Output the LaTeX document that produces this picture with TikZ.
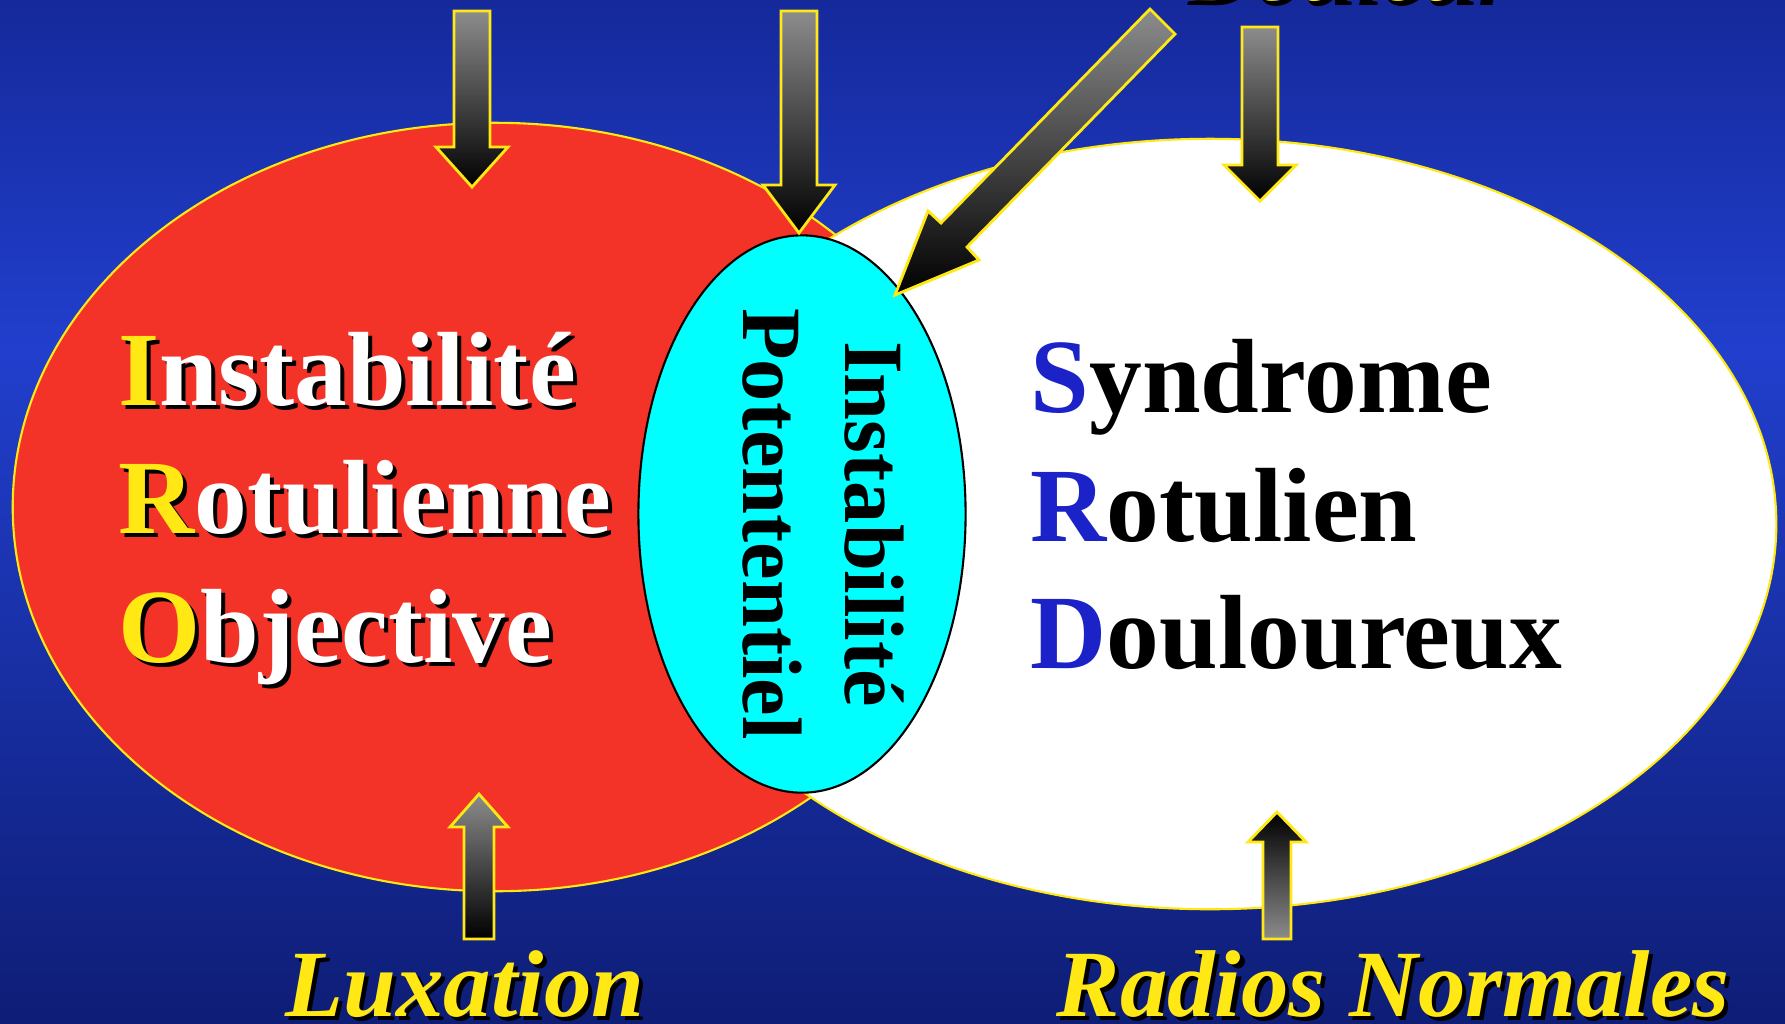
\documentclass[tikz,border=0pt]{standalone}
\usepackage{fontspec}
\setmainfont{Liberation Serif}
\usetikzlibrary{shapes.geometric}

\definecolor{bgtop}{RGB}{21,41,155}
\definecolor{bgmid}{RGB}{33,63,205}
\definecolor{bgbot}{RGB}{14,29,118}
\definecolor{iroRed}{RGB}{243,50,40}
\definecolor{hiYellow}{RGB}{255,232,20}
\definecolor{srdBlue}{RGB}{26,34,200}
\definecolor{ipCyan}{RGB}{0,255,255}
\definecolor{arrowGray}{RGB}{140,140,140}

\pgfdeclareverticalshading{slidebg}{100bp}{color(0bp)=(bgbot); color(25bp)=(bgbot);
    color(58bp)=(bgmid); color(75bp)=(bgtop); color(100bp)=(bgtop)}

\begin{document}
\begin{tikzpicture}[
    x=0.01cm, y=-0.01cm,
    blob/.style={ellipse, inner sep=0pt, line width=0.6pt},
    blockarrow/.style={draw=hiYellow, line width=0.8pt, line join=miter},
    bigword/.style={anchor=base west, inner sep=0pt,
        font=\fontsize{30}{36}\selectfont\bfseries},
    bottomword/.style={anchor=base west, inner sep=0pt,
        font=\fontsize{27}{32}\selectfont\bfseries\itshape}
]

%% Fond 1785x1023 px, 1 px = 0.01 cm, y vers le bas
\useasboundingbox (0,0) rectangle (1785,1023);
\shade[shading=slidebg] (0,0) rectangle (1785,1023);

%% ── Ellipses ─────────────────────────────────────────────────────
\node[blob, fill=iroRed, draw=hiYellow,
    minimum width=9.64cm, minimum height=7.68cm] (iro) at (495,507) {};
\node[blob, fill=white, draw=hiYellow,
    minimum width=11.32cm, minimum height=7.70cm] (srd) at (1210,524) {};
\node[blob, fill=ipCyan, draw=black,
    minimum width=3.27cm, minimum height=5.57cm] (ip) at (802,514) {};

%% ── Flèches pleines ──────────────────────────────────────────────
\draw[blockarrow, top color=arrowGray, bottom color=black]
    (454,11) -- (490,11) -- (490,147) -- (508,147) -- (472,187)
    -- (436,147) -- (454,147) -- cycle;
\draw[blockarrow, top color=arrowGray, bottom color=black]
    (781,11) -- (817,11) -- (817,185) -- (835,185) -- (799,233)
    -- (763,185) -- (781,185) -- cycle;
\draw[blockarrow, top color=arrowGray, bottom color=black]
    (1150,9) -- (1175,34) -- (967,247) -- (979,260) -- (895,295)
    -- (928,211) -- (941,223) -- cycle;
\draw[blockarrow, top color=arrowGray, bottom color=black]
    (1242,27) -- (1278,27) -- (1278,165) -- (1296,165) -- (1260,201)
    -- (1224,165) -- (1242,165) -- cycle;
\draw[blockarrow, top color=arrowGray, bottom color=black]
    (479,794) -- (508,827) -- (494,827) -- (494,939) -- (464,939)
    -- (464,827) -- (450,827) -- cycle;
\draw[blockarrow, top color=black, bottom color=arrowGray]
    (1277,812) -- (1306,842) -- (1291,842) -- (1291,939) -- (1263,939)
    -- (1263,842) -- (1248,842) -- cycle;

%% ── Textes des ellipses ──────────────────────────────────────────
\foreach \ly/\first/\rest [count=\i] in
        {405/I/nstabilité, 533/R/otulienne, 662/O/bjective} {
    \node[bigword, text=black] (iroS\i) at (122,\ly+4) {\first\rest};
    \node[bigword, text=white] (iro\i) at (118,\ly)
        {\textcolor{hiYellow}{\first}\rest};
}
\foreach \ly/\first/\rest [count=\i] in
        {412/S/yndrome, 541/R/otulien, 668/D/ouloureux} {
    \node[bigword] (srd\i) at (1030,\ly) {\textcolor{srdBlue}{\first}\rest};
}
\node[rotate=-90, align=center, inner sep=0pt,
    font=\fontsize{24}{29}\selectfont\bfseries] (ipText) at (823,524)
    {Instabilité\\Potententiel};

%% ── Légendes ─────────────────────────────────────────────────────
\node[bottomword, text=black] (dolS) at (1188,5) {Douleur};
\node[bottomword, text=hiYellow] (dol) at (1184,0) {Douleur};
\node[bottomword, text=black] (luxS) at (289,1020) {Luxation};
\node[bottomword, text=hiYellow] (lux) at (285,1016) {Luxation};
\node[bottomword, text=black] (radS) at (1060,1020) {Radios Normales};
\node[bottomword, text=hiYellow] (rad) at (1056,1016) {Radios Normales};

\end{tikzpicture}
\end{document}
